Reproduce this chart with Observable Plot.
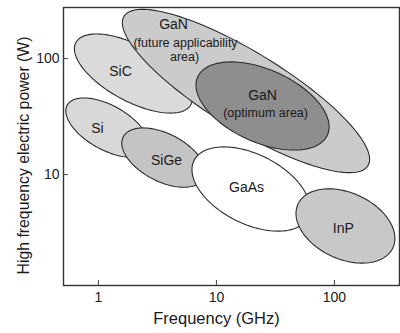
<!DOCTYPE html>
<html><head><meta charset="utf-8">
<script src="https://cdn.jsdelivr.net/npm/d3@7"></script>
<script src="https://cdn.jsdelivr.net/npm/@observablehq/plot@0.6"></script>
<style>body{margin:0;background:#fff;}</style>
</head><body><div id="chart"></div>
<script>
// Ellipse regions (log-log space): centre, semi-axes in decades, tilt in degrees (downward to the right)
const materials   = ["SiC", "GaN future", "GaN optimum", "Si", "SiGe", "GaAs", "InP"];
const centerFreq  = [1.98, 17.8, 24.6, 1.19, 3.56, 19.6, 124];
const centerPower = [74.3, 52.5, 39.0, 25.4, 14.0, 7.50, 3.60];
const majorDec    = [0.556, 1.218, 0.604, 0.391, 0.385, 0.541, 0.444];
const minorDec    = [0.239, 0.332, 0.313, 0.190, 0.205, 0.298, 0.285];
const tiltDeg     = [29, 32, 24.7, 30, 28, 27.4, 25.5];

// Labels
const nameText  = ["GaN", "SiC", "GaN", "Si", "SiGe", "GaAs", "InP"];
const nameFreq  = [4.33, 1.54, 24.6, 0.98, 3.78, 18.0, 119];
const namePower = [196, 77.3, 48.0, 24.9, 13.2, 7.72, 3.42];
const noteText  = ["(future applicability", "area)", "(optimum area)"];
const noteFreq  = [5.47, 5.37, 26.1];
const notePower = [137, 104, 34.2];

const xTicks = [1, 10, 100];
const yTicks = [10, 100];

const fillOf = {"SiC": "#dadada", "GaN future": "#cbcbcb", "GaN optimum": "#8e8e8e",
  "Si": "#d8d8d8", "SiGe": "#c4c4c4", "GaAs": "#ffffff", "InP": "#c8c8c8"};

function outline(i) {
  const pts = [];
  const phi = -tiltDeg[i] * Math.PI / 180;
  const lx0 = Math.log10(centerFreq[i]), ly0 = Math.log10(centerPower[i]);
  const N = 144;
  for (let k = 0; k <= N; k++) {
    const t = 2 * Math.PI * k / N;
    const u = majorDec[i] * Math.cos(t), v = minorDec[i] * Math.sin(t);
    pts.push({f: 10 ** (lx0 + u * Math.cos(phi) - v * Math.sin(phi)),
              p: 10 ** (ly0 + u * Math.sin(phi) + v * Math.cos(phi))});
  }
  return pts;
}

const names = nameText.map((t, i) => ({t, f: nameFreq[i], p: namePower[i]}));
const notes = noteText.map((t, i) => ({t, f: noteFreq[i], p: notePower[i]}));

const marks = [];
materials.forEach((m, i) => {
  marks.push(Plot.line(outline(i), {x: "f", y: "p", fill: fillOf[m], stroke: "#2b2b2b", strokeWidth: 1.1, curve: "linear", clip: true}));
});
marks.push(
  Plot.text(names, {x: "f", y: "p", text: "t", fontSize: 14, fill: "#1a1a1a"}),
  Plot.text(notes, {x: "f", y: "p", text: "t", fontSize: 12.5, fill: "#1a1a1a"}),
  Plot.frame({stroke: "#333", strokeWidth: 1.4}),
  Plot.tickX(xTicks, {x: d => d, insetTop: 273, stroke: "#444"}),
  Plot.tickY(yTicks, {y: d => d, insetRight: 331, stroke: "#444"}),
  Plot.axisX({ticks: xTicks, tickFormat: d => String(d), tickSize: 0, tickPadding: 7, fontSize: 14, label: null}),
  Plot.axisY({ticks: yTicks, tickFormat: d => String(d), tickSize: 0, tickPadding: 4, fontSize: 14, label: null}),
  Plot.text(["Frequency (GHz)"], {frameAnchor: "bottom", dy: 38, dx: -15, lineAnchor: "bottom", fontSize: 16.5, fill: "#1a1a1a"}),
  Plot.text(["High frequency electric power (W)"], {frameAnchor: "left", textAnchor: "middle", dx: -40, dy: 9, rotate: -90, fontSize: 15.8, fill: "#1a1a1a"})
);

const chart = Plot.plot({
  width: 400, height: 333,
  marginLeft: 63, marginRight: 1, marginTop: 7, marginBottom: 48,
  style: {fontFamily: "'Liberation Sans', Arial, sans-serif", background: "#fff", color: "#1a1a1a"},
  x: {type: "log", domain: [0.506, 356]},
  y: {type: "log", domain: [1.104, 275.7]},
  marks
});
document.getElementById("chart").appendChild(chart);
</script>
</body></html>
